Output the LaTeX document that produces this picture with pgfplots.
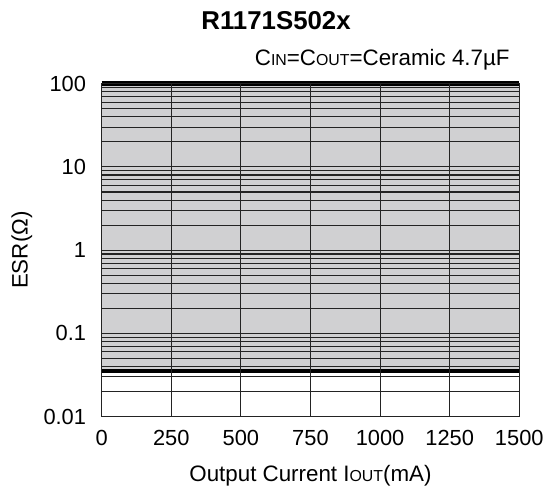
\documentclass[border=0pt]{standalone}
\usepackage{fontspec}
\setmainfont{Liberation Sans}
\usepackage{pgfplots}
\pgfplotsset{compat=1.18}
\definecolor{fillgray}{RGB}{208,208,210}
\definecolor{gridc}{RGB}{35,35,35}
\newcommand{\sm}[1]{{\fontsize{16}{16}\selectfont #1}}
\begin{document}
\fontsize{22.5}{26}\selectfont
\begin{tikzpicture}
\begin{axis}[
  scale only axis, width=419bp, height=334bp,
  xmin=0, xmax=1500, ymin=0.01, ymax=100, ymode=log,
  xtick={0,250,500,750,1000,1250,1500},
  xticklabels={0,250,500,750,1000,1250,1500},
  ytick={0.01,0.1,1,10,100},
  yticklabels={0.01,0.1,1,10,100},
  minor ytick={0.02,0.03,0.04,0.05,0.06,0.07,0.08,0.09,0.2,0.3,0.4,0.5,0.6,0.7,0.8,0.9,2,3,4,5,6,7,8,9,20,30,40,50,60,70,80,90},
  grid=both,
  major grid style={gridc, line width=1.1bp},
  minor grid style={gridc, line width=1.1bp},
  major tick length=0pt, minor tick length=0pt,
  axis line style={gridc, line width=1.4bp},
  axis on top=true,
  clip=false,
  tick label style={font=\fontsize{22}{26}\selectfont},
  xticklabel style={yshift=-6bp},
  yticklabel style={xshift=-8bp},
  /pgf/number format/assume math mode=true,
]
\addplot[fill=fillgray, draw=none] coordinates {(0,0.035) (1500,0.035) (1500,100) (0,100)} -- cycle;
\addplot[black, line width=4bp] coordinates {(0,0.035) (1500,0.035)};
\addplot[black, line width=4.5bp] coordinates {(0,100) (1500,100)};
\node[anchor=base, font=\bfseries\fontsize{26}{30}\selectfont] at (rel axis cs:0.4176,1) [yshift=54bp] {R1171S502x};
\node[anchor=base east] at (rel axis cs:1,1) [yshift=18bp, xshift=-2bp] {C\sm{IN}=C\sm{OUT}=Ceramic 4.7µF};
\node[anchor=base] at (rel axis cs:0.5,0) [yshift=-65bp] {Output Current I\sm{OUT}(mA)};
\node[xshift=-80bp, rotate=90] at (rel axis cs:0,0.5) {ESR(Ω)};
\path (rel axis cs:0,0) ++(-102bp,-74bp) coordinate (bbll);
\path (rel axis cs:1,1) ++(30bp,84bp) coordinate (bbur);
\end{axis}
\useasboundingbox (bbll) rectangle (bbur);
\end{tikzpicture}
\end{document}
